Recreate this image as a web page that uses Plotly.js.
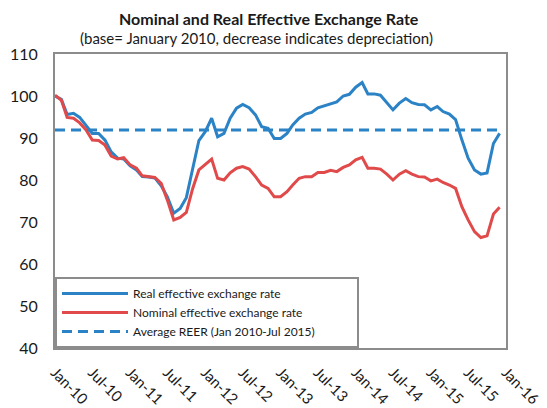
<!DOCTYPE html>
<html>
<head>
<meta charset="utf-8">
<script src="https://cdn.plot.ly/plotly-3.0.1.min.js"></script>
<style>html,body{margin:0;padding:0;background:#fff;}#chart{width:547px;height:408px;}</style>
</head>
<body>
<div id="chart"></div>
<script>
var months = [
  "2010-01","2010-02","2010-03","2010-04","2010-05","2010-06","2010-07","2010-08","2010-09","2010-10","2010-11","2010-12",
  "2011-01","2011-02","2011-03","2011-04","2011-05","2011-06","2011-07","2011-08","2011-09","2011-10","2011-11","2011-12",
  "2012-01","2012-02","2012-03","2012-04","2012-05","2012-06","2012-07","2012-08","2012-09","2012-10","2012-11","2012-12",
  "2013-01","2013-02","2013-03","2013-04","2013-05","2013-06","2013-07","2013-08","2013-09","2013-10","2013-11","2013-12",
  "2014-01","2014-02","2014-03","2014-04","2014-05","2014-06","2014-07","2014-08","2014-09","2014-10","2014-11","2014-12",
  "2015-01","2015-02","2015-03","2015-04","2015-05","2015-06","2015-07","2015-08","2015-09","2015-10","2015-11","2015-12"
];
var reer = [
  100.0, 99.2, 95.6, 95.9, 94.9, 93.1, 91.1, 91.1, 89.5, 86.7, 85.2, 85.0,
  83.4, 82.4, 80.8, 80.7, 80.5, 78.6, 76.0, 72.1, 73.2, 75.8, 82.8, 89.4,
  91.5, 94.7, 90.3, 91.1, 94.7, 97.1, 98.0, 97.2, 95.5, 92.7, 92.3, 89.9,
  89.9, 91.1, 93.1, 94.7, 95.7, 96.1, 97.2, 97.7, 98.1, 98.6, 100.0, 100.4,
  102.1, 103.2, 100.5, 100.5, 100.2, 98.4, 96.7, 98.3, 99.4, 98.4, 98.0, 97.9,
  96.7, 97.5, 96.3, 95.7, 94.4, 89.5, 85.2, 82.4, 81.4, 81.7, 88.7, 91.1
];
var neer = [
  100.2, 99.0, 94.9, 94.7, 93.6, 91.9, 89.5, 89.4, 88.3, 85.7, 85.0, 85.3,
  83.6, 82.8, 81.0, 80.8, 80.6, 79.2, 75.2, 70.5, 71.1, 72.3, 78.0, 82.4,
  83.6, 85.0, 80.4, 80.0, 81.7, 82.8, 83.2, 82.6, 80.8, 78.8, 78.0, 76.0,
  76.0, 77.2, 78.8, 80.4, 80.8, 80.8, 81.8, 81.8, 82.3, 82.0, 83.0, 83.6,
  84.8, 85.4, 82.8, 82.8, 82.6, 81.4, 80.0, 81.4, 82.2, 81.4, 80.8, 80.7,
  79.8, 80.2, 79.4, 78.8, 78.0, 73.6, 70.5, 67.7, 66.3, 66.7, 71.9, 73.5
];
var avgReer = 91.9;
var avgX = ["2010-01", "2015-12"];
var avgY = [avgReer, avgReer];
var tickVals = ["2010-01-01","2010-07-01","2011-01-01","2011-07-01","2012-01-01","2012-07-01","2013-01-01","2013-07-01","2014-01-01","2014-07-01","2015-01-01","2015-07-01","2016-01-01"];
var tickText = ["Jan-10","Jul-10","Jan-11","Jul-11","Jan-12","Jul-12","Jan-13","Jul-13","Jan-14","Jul-14","Jan-15","Jul-15","Jan-16"];
var yTicks = [40, 50, 60, 70, 80, 90, 100, 110];
var seriesNames = ["Real effective exchange rate", "Nominal effective exchange rate", "Average REER (Jan 2010-Jul 2015)"];

var FONT = "Lato, 'Open Sans', sans-serif";
var blue = "#2b83c6", red = "#e04a4a";
var pad = "\u00a0\u00a0\u00a0\u00a0\u00a0\u00a0\u00a0\u00a0\u00a0\u00a0\u00a0\u00a0";

var traces = [
  {x: months, y: reer, type: "scatter", mode: "lines", name: seriesNames[0],
   line: {color: blue, width: 3}},
  {x: months, y: neer, type: "scatter", mode: "lines", name: seriesNames[1],
   line: {color: red, width: 3}},
  {x: avgX, y: avgY, type: "scatter", mode: "lines", name: seriesNames[2] + pad,
   line: {color: blue, width: 3, dash: "10px,6px"}}
];

var layout = {
  width: 547, height: 408,
  margin: {l: 55, r: 41, t: 54, b: 60},
  paper_bgcolor: "#fff", plot_bgcolor: "#fff",
  font: {family: FONT, color: "#1a1a1a", size: 14},
  showlegend: true,
  legend: {
    x: 0, y: 0, xanchor: "left", yanchor: "bottom",
    bgcolor: "#fff", bordercolor: "#8c8c8c", borderwidth: 2,
    font: {family: FONT, size: 12, color: "#1a1a1a"},
    itemwidth: 66, tracegroupgap: 0
  },
  xaxis: {
    type: "date", range: ["2010-01-01", "2016-01-01"],
    tickmode: "array", tickvals: tickVals, ticktext: tickText,
    tickangle: 45, ticks: "", showgrid: false, zeroline: false,
    showline: true, linecolor: "#8c8c8c", linewidth: 2, mirror: true,
    ticklabelstandoff: 8,
    tickfont: {family: FONT, size: 15, color: "#1a1a1a"}
  },
  yaxis: {
    range: [40, 110], tickmode: "array", tickvals: yTicks,
    ticks: "", showgrid: false, zeroline: false,
    showline: true, linecolor: "#8c8c8c", linewidth: 2, mirror: true,
    ticklabelstandoff: 12,
    tickfont: {family: FONT, size: 16, color: "#1a1a1a"}
  },
  annotations: [
    {text: "<b>Nominal and Real Effective Exchange Rate</b>", xref: "paper", yref: "paper",
     x: 0.475, y: 1, yshift: 36, xanchor: "center", yanchor: "middle", showarrow: false,
     font: {family: FONT, size: 16, color: "#1a1a1a"}},
    {text: "(base= January 2010, decrease indicates depreciation)", xref: "paper", yref: "paper",
     x: 0.447, y: 1, yshift: 16, xanchor: "center", yanchor: "middle", showarrow: false,
     font: {family: FONT, size: 15, color: "#1a1a1a"}}
  ]
};

Plotly.newPlot("chart", traces, layout, {displayModeBar: false, staticPlot: true});
</script>
</body>
</html>
